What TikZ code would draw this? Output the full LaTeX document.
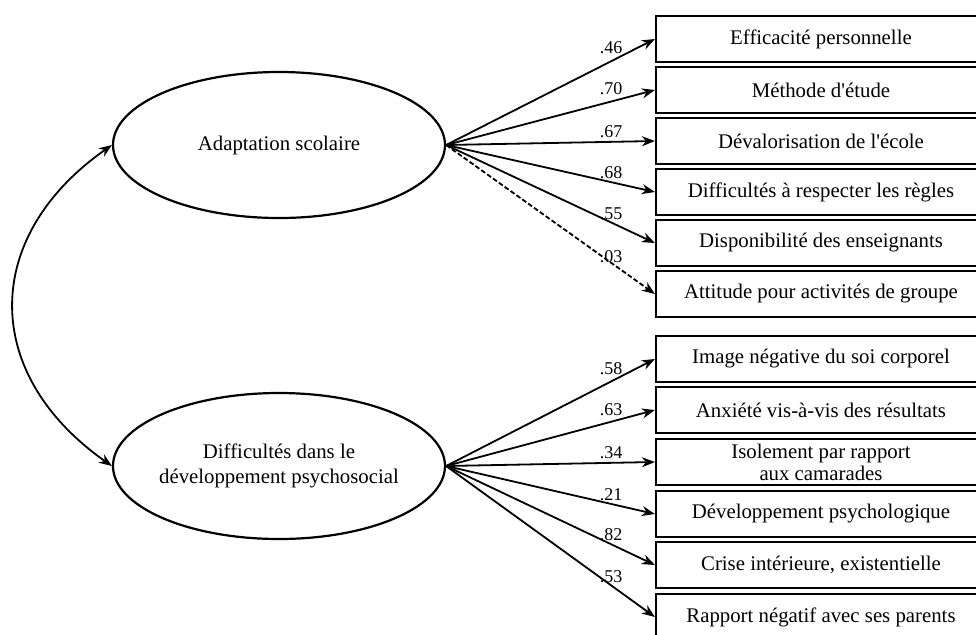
\documentclass[tikz,border=0pt]{standalone}
\usepackage{fontspec}
\setmainfont{Liberation Serif}
\usetikzlibrary{arrows.meta,shapes.geometric}
\begin{document}
\begin{tikzpicture}[x=0.5pt,y=-0.5pt,
  latent/.style={ellipse, draw, line width=1.1pt, minimum width=166pt, minimum height=73pt,
    inner sep=0pt},
  latenttext/.style={inner sep=0pt, align=center, font=\fontsize{10.4}{12.5}\selectfont},
  obs/.style={rectangle, draw, line width=1.1pt, minimum width=165pt, minimum height=23pt,
    inner sep=0pt, align=center, font=\fontsize{10.4}{11}\selectfont},
  conn/.style={line width=0.9pt, -{Stealth[length=6.5pt,width=5pt]}},
  coef/.style={font=\fontsize{9}{10}\selectfont, inner sep=0pt}]
\clip (0,0) rectangle (976,634);
\fill[white] (0,0) rectangle (976,634);
% latent variables
\node[latent] (a) at (279,145) {};
\node[latenttext] (at) at (a.center) {Adaptation scolaire};
\node[latent] (b) at (279,466) {};
\node[latenttext] (bt) at (b.center) {Difficultés dans le\\développement psychosocial};
% observed, upper
\node[obs] (u1) at (821,39) {Efficacité personnelle};
\node[obs] (u2) at (821,90) {Méthode d\textquotesingle étude};
\node[obs] (u3) at (821,141) {Dévalorisation de l\textquotesingle école};
\node[obs] (u4) at (821,192) {Difficultés à respecter les règles};
\node[obs] (u5) at (821,243) {Disponibilité des enseignants};
\node[obs] (u6) at (821,294) {Attitude pour activités de groupe};
% observed, lower
\node[obs] (d1) at (821,359) {Image négative du soi corporel};
\node[obs] (d2) at (821,410) {Anxiété vis-à-vis des résultats};
\node[obs] (d3) at (821,462) {Isolement par rapport\\aux camarades};
\node[obs] (d4) at (821,514) {Développement psychologique};
\node[obs] (d5) at (821,565) {Crise intérieure, existentielle};
\node[obs] (d6) at (821,617) {Rapport négatif avec ses parents};
% loadings
\draw[conn] (a.east) -- (u1.west);
\draw[conn] (a.east) -- (u2.west);
\draw[conn] (a.east) -- (u3.west);
\draw[conn] (a.east) -- (u4.west);
\draw[conn] (a.east) -- (u5.west);
\draw[conn, dash pattern=on 2.4pt off 1.2pt] (a.east) -- (u6.west);
\draw[conn] (b.east) -- (d1.west);
\draw[conn] (b.east) -- (d2.west);
\draw[conn] (b.east) -- (d3.west);
\draw[conn] (b.east) -- (d4.west);
\draw[conn] (b.east) -- (d5.west);
\draw[conn] (b.east) -- (d6.west);
% coefficients
\node[coef] (c1) at (611,48) {.46};
\node[coef] (c2) at (611,89) {.70};
\node[coef] (c3) at (611,132) {.67};
\node[coef] (c4) at (611,173) {.68};
\node[coef] (c5) at (611,214) {.55};
\node[coef] (c6) at (611,257) {.03};
\node[coef] (e1) at (611,369) {.58};
\node[coef] (e2) at (611,410) {.63};
\node[coef] (e3) at (611,453) {.34};
\node[coef] (e4) at (611,495) {.21};
\node[coef] (e5) at (611,535) {.82};
\node[coef] (e6) at (611,577) {.53};
% correlation
\draw[line width=0.9pt, {Stealth[length=6.5pt,width=5pt]}-{Stealth[length=6.5pt,width=5pt]}]
  (a.west) .. controls (-19,237) and (-19,374) .. (b.west);
\end{tikzpicture}
\end{document}
